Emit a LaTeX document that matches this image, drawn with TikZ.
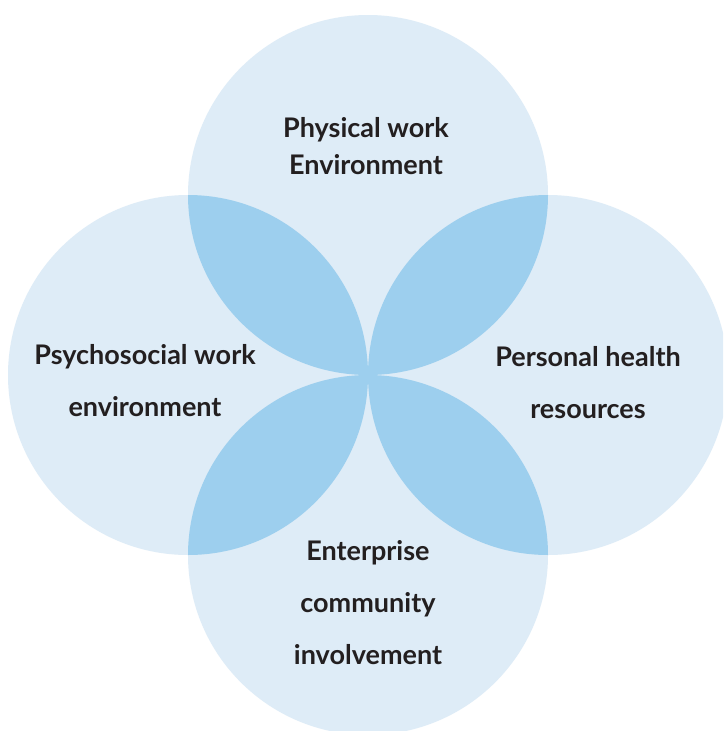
\documentclass[tikz,border=0pt]{standalone}
\usepackage{fontspec}
\setmainfont{Lato}
\definecolor{lightb}{HTML}{DEECF7}
\definecolor{darkb}{HTML}{9DCFEE}
\definecolor{ink}{HTML}{231F20}
\begin{document}
\begin{tikzpicture}[x=1pt,y=-1pt,
  lbl/.style={align=center,text=ink,inner sep=0pt,font=\bfseries\fontsize{27}{52}\selectfont},
  lbltop/.style={lbl,font=\bfseries\fontsize{27}{37}\selectfont}]
\useasboundingbox (0,0) rectangle (723,731);
\fill[white] (0,0) rectangle (723,731);
\clip (0,0) rectangle (723,731);
\coordinate (ct) at (368,195);
\coordinate (cl) at (188,375);
\coordinate (cr) at (548,375);
\coordinate (cb) at (368,555);
\foreach \c in {ct,cl,cr,cb} \fill[lightb] (\c) circle (180pt);
\foreach \a/\b in {ct/cl,ct/cr,cb/cl,cb/cr}{
  \begin{scope}
    \clip (\a) circle (180pt);
    \fill[darkb] (\b) circle (180pt);
  \end{scope}
}
\node[lbltop] (ltop) at (366,146) {Physical work\\Environment};
\node[lbl] (lleft) at (145,381) {Psychosocial work\\environment};
\node[lbl] (lright) at (588,383) {Personal health\\resources};
\node[lbl] (lbot) at (368,603) {Enterprise\\community\\involvement};
\end{tikzpicture}
\end{document}
